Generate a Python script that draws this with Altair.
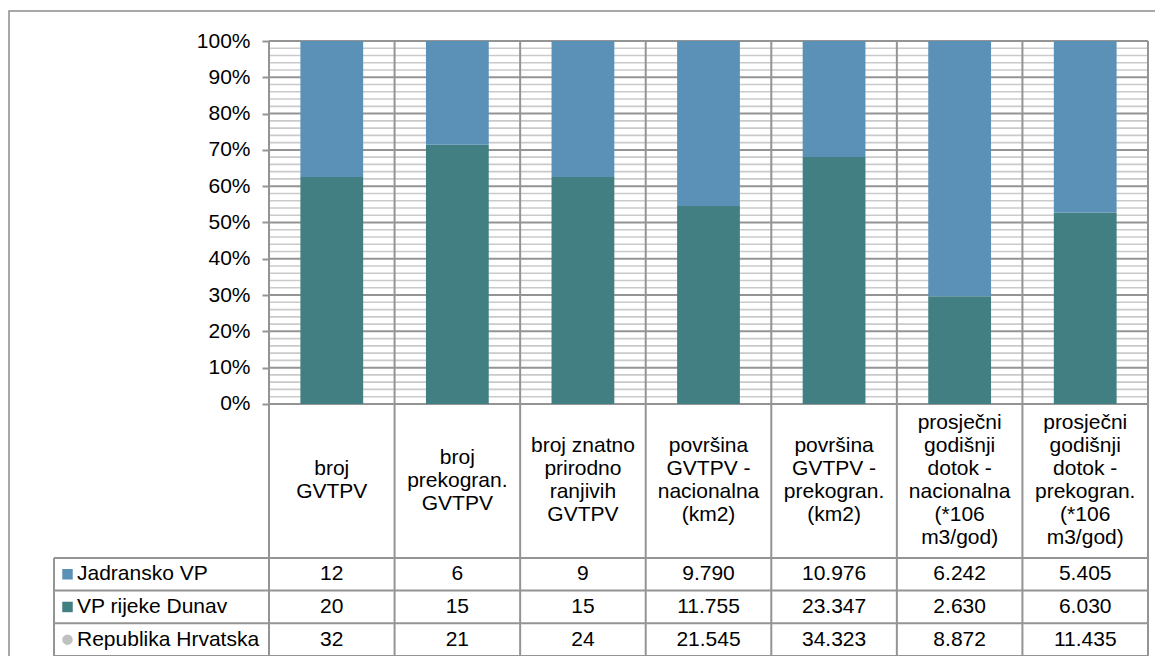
import altair as alt
import pandas as pd

# ---------------- data ----------------
categories = [
    "broj\nGVTPV",
    "broj\nprekogran.\nGVTPV",
    "broj znatno\nprirodno\nranjivih\nGVTPV",
    "površina\nGVTPV -\nnacionalna\n(km2)",
    "površina\nGVTPV -\nprekogran.\n(km2)",
    "prosječni\ngodišnji\ndotok -\nnacionalna\n(*106\nm3/god)",
    "prosječni\ngodišnji\ndotok -\nprekogran.\n(*106\nm3/god)",
]
series = ["Jadransko VP", "VP rijeke Dunav", "Republika Hrvatska"]
jadransko = [12, 6, 9, 9790, 10976, 6242, 5405]
dunav = [20, 15, 15, 11755, 23347, 2630, 6030]
hrvatska = [32, 21, 24, 21545, 34323, 8872, 11435]
y_ticks = [0, 10, 20, 30, 40, 50, 60, 70, 80, 90, 100]
minor_ticks = [v for v in range(2, 100, 2) if v % 10]

colors = ["#5B91B7", "#417F82", "#C0C0C0"]
shapes = ["square", "square", "circle"]

# ---------------- layout (pixels) ----------------
COL_PX = 879 / 7
LEG_PX = 215
BAR_PX = 363
CAT_PX = 154
ROW_PX = 32.7
LH = 23                                  # category label line height
K = BAR_PX / 100.0                       # px per percent unit
LEG_U = LEG_PX / COL_PX                  # legend column width in x units
CAT_U = CAT_PX / K
ROW_U = ROW_PX / K
LOW = -(CAT_U + 3 * ROW_U)
W = round((7 + LEG_U) * COL_PX)
H = round((100 - LOW) * K)

FONT = "Liberation Sans"
FS = 21
DARK = "#949494"
MINOR = "#CACACA"

xscale = alt.Scale(domain=[-LEG_U, 7], nice=False, zero=False)
yscale = alt.Scale(domain=[LOW, 100], nice=False, zero=False)
yaxis = alt.Axis(
    values=y_ticks, labelExpr="datum.value + '%'", offset=-LEG_PX,
    grid=False, domain=False, ticks=True, tickSize=7, tickWidth=2, tickColor=DARK,
    labelFont=FONT, labelFontSize=FS, labelColor="#000000", labelPadding=12, title=None,
)


def X(field):
    return alt.X(field, scale=xscale, axis=None)


def Y(field):
    return alt.Y(field, scale=yscale, axis=yaxis)


# ---------------- frames ----------------
bars = pd.DataFrame(
    [{"idx": i, "series": s, "order": o, "value": v}
     for s, o, vals in [("VP rijeke Dunav", 0, dunav), ("Jadransko VP", 1, jadransko)]
     for i, v in enumerate(vals)]
)

table_vals = {"Jadransko VP": jadransko, "VP rijeke Dunav": dunav, "Republika Hrvatska": hrvatska}
table = pd.DataFrame(
    [{"x": i + 0.5, "y": -(CAT_U + (r + 0.5) * ROW_U), "value": v}
     for r, s in enumerate(series) for i, v in enumerate(table_vals[s])]
)

legend = pd.DataFrame(
    [{"series": s, "y": -(CAT_U + (r + 0.5) * ROW_U),
      "xm": -LEG_U + 13.5 / COL_PX, "xt": -LEG_U + 23 / COL_PX}
     for r, s in enumerate(series)]
)

# first line position so that the block of lines is centred in the label row
cats = pd.DataFrame({
    "x": [i + 0.5 for i in range(7)],
    "y": [-CAT_U / 2 + (c.count("\n") * LH / 2) / K for c in categories],
    "label": categories,
})

minor = pd.DataFrame({"y": minor_ticks, "x": 0, "x2": 7})

dark_rows = []
for v in y_ticks:
    dark_rows.append({"x": 0, "x2": 7, "y": v, "y2": v})
for i in range(8):
    dark_rows.append({"x": i, "x2": i, "y": LOW, "y2": 100})
for r in range(4):
    yy = -(CAT_U + r * ROW_U)
    dark_rows.append({"x": -LEG_U, "x2": 7, "y": yy, "y2": yy})
dark_rows.append({"x": -LEG_U, "x2": -LEG_U, "y": -CAT_U, "y2": LOW})
dark = pd.DataFrame(dark_rows)

# ---------------- layers ----------------
border = alt.Chart(pd.DataFrame({"a": [0]})).mark_rect(
    fillOpacity=0, stroke="#8C8C8C", strokeWidth=1.5
).encode(x=alt.value(-45), x2=alt.value(W + 40), y=alt.value(-30), y2=alt.value(H + 40))

minor_layer = alt.Chart(minor).mark_rule(color=MINOR, strokeWidth=1.6).encode(
    x=X("x:Q"), x2="x2", y=Y("y:Q"),
)

dark_layer = alt.Chart(dark).mark_rule(color=DARK, strokeWidth=2).encode(
    x=X("x:Q"), x2="x2", y=Y("y:Q"), y2="y2",
)

bar_layer = alt.Chart(bars).transform_stack(
    stack="value", groupby=["idx"], as_=["s0", "s1"], offset="normalize",
    sort=[alt.SortField("order", order="ascending")],
).transform_calculate(
    p0="datum.s0 * 100", p1="datum.s1 * 100",
    xl="datum.idx + 0.25", xr="datum.idx + 0.75",
).mark_rect().encode(
    x=X("xl:Q"), x2="xr:Q",
    y=Y("p0:Q"), y2="p1:Q",
    color=alt.Color("series:N", scale=alt.Scale(domain=series, range=colors), legend=None),
)

cat_layer = alt.Chart(cats).mark_text(
    font=FONT, fontSize=FS, lineBreak="\n", lineHeight=LH, align="center",
    baseline="middle", color="#000000",
).encode(x=X("x:Q"), y=Y("y:Q"), text="label:N")

table_layer = alt.Chart(table).transform_calculate(
    label="replace(format(datum.value, ','), ',', '.')"
).mark_text(font=FONT, fontSize=FS, align="center", baseline="middle", color="#000000").encode(
    x=X("x:Q"), y=Y("y:Q"), text="label:N",
)

marker_layer = alt.Chart(legend).mark_point(filled=True, size=110, opacity=1).encode(
    x=X("xm:Q"), y=Y("y:Q"),
    color=alt.Color("series:N", scale=alt.Scale(domain=series, range=colors), legend=None),
    shape=alt.Shape("series:N", scale=alt.Scale(domain=series, range=shapes), legend=None),
)

legend_text = alt.Chart(legend).mark_text(
    font=FONT, fontSize=FS, align="left", baseline="middle", color="#000000"
).encode(x=X("xt:Q"), y=Y("y:Q"), text="series:N")

chart = alt.layer(
    border, minor_layer, dark_layer, bar_layer, cat_layer, table_layer, marker_layer, legend_text
).properties(
    width=W, height=H,
    autosize=alt.AutoSizeParams(type="none"),
    padding={"left": 46, "top": 33, "right": 7, "bottom": 0},
    background="#FFFFFF",
).configure_view(strokeWidth=0)

chart.save("out.html", embed_options={"renderer": "svg", "actions": False})
